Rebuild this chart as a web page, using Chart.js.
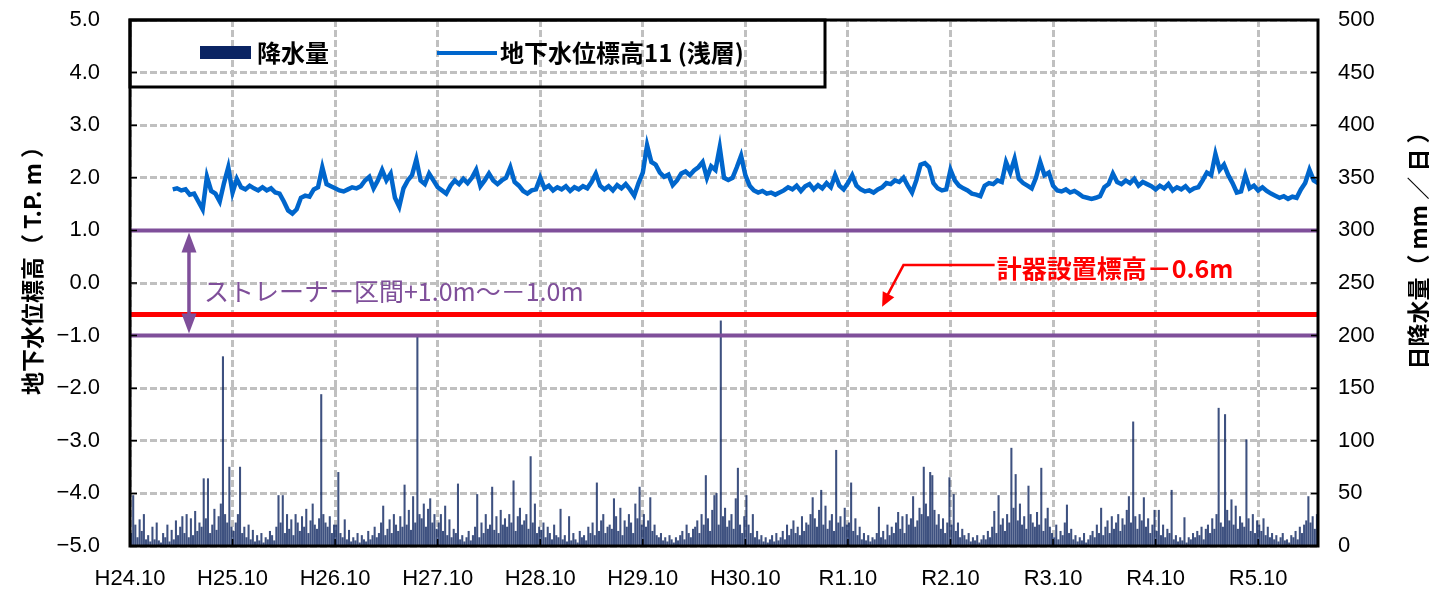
<!DOCTYPE html>
<html>
<head>
<meta charset="utf-8">
<script src="https://cdn.jsdelivr.net/npm/chart.js@4/dist/chart.umd.min.js"></script>
<style>
  body { margin: 0; background: #fff; }
  canvas { display: block; }
</style>
</head>
<body>
<canvas id="grafico" width="1429" height="593"></canvas>
<script>
// eje x en meses desde H24.10 (oct 2012)
const etiquetasAnio = ['H24.10', 'H25.10', 'H26.10', 'H27.10', 'H28.10', 'H29.10', 'H30.10', 'R1.10', 'R2.10', 'R3.10', 'R4.10', 'R5.10']
const mesesAnio = [0, 12, 24, 36, 48, 60, 72, 84, 96, 108, 120, 132]
const mesFinal = 139

// lluvia diaria (mm/日), maximo de cada cuarto de mes, por año fiscal
const lluvia = [
  // H24.10 - H25.9
  12,48,20,8,25,14,30,6, 10,4,18,6,22,5,3,12, 8,20,4,15,6,24,10,18,
  28,12,30,8,26,10,33,14, 22,18,64,26,64,12,20,35, 15,28,40,180,30,22,75,18,
  // H25.10
  14,22,30,75,12,18,8,20, 6,15,4,10,5,12,3,8, 6,14,10,5,18,48,22,48,
  12,30,16,25,10,30,22,14, 28,18,35,12,24,40,20,16, 26,144,30,22,18,28,12,20,
  // H26.10
  20,70,12,8,25,6,15,4, 8,5,12,3,10,6,4,14, 6,10,18,8,12,22,38,10,
  16,25,12,30,20,14,28,18, 58,20,34,15,47,22,199,30, 26,40,18,35,45,22,30,16,
  // H27.10
  22,30,14,38,10,25,8,16, 12,59,6,10,4,8,14,5, 10,18,49,8,22,12,30,16,
  20,56,15,28,12,34,20,26, 18,30,22,62,14,28,36,20, 24,30,16,85,22,40,12,18,
  // H28.10
  15,22,8,18,12,6,20,10, 8,35,6,10,4,28,5,12, 6,3,14,8,10,5,18,12,
  22,10,60,14,24,30,12,18, 20,16,45,28,14,36,10,24, 18,30,22,12,40,26,56,20,
  // H29.10
  30,18,24,46,14,20,10,8, 12,5,8,4,10,6,3,8, 5,10,14,6,20,12,8,16,
  18,24,12,30,20,67,26,14, 34,48,50,20,214,28,36,18, 24,30,16,45,74,20,12,28,
  // H30.10
  48,20,12,30,8,14,6,10, 4,8,3,6,10,4,12,5, 8,14,6,20,10,16,24,12,
  18,10,28,14,22,20,30,46, 26,18,34,53,20,38,16,24, 30,14,91,22,28,18,36,20,
  // R1.10
  22,60,14,26,10,18,6,12, 5,10,4,8,6,12,37,8, 14,6,20,10,18,12,22,32,
  16,28,12,30,20,26,47,18, 24,36,30,75,40,28,70,67, 34,20,30,16,26,12,22,65,
  // R2.10
  20,49,14,22,8,16,10,6, 12,4,8,5,10,3,6,10, 6,14,8,18,33,12,48,20,
  26,14,30,22,93,36,68,24, 40,20,28,16,57,30,22,18, 32,20,74,14,26,36,18,12,
  // R3.10
  8,20,6,14,10,22,39,12, 16,6,10,4,8,5,12,3, 6,10,14,8,20,12,36,10,
  18,24,12,28,16,22,30,14, 26,20,34,47,22,118,28,16, 30,24,46,18,26,12,20,34,
  // R4.10
  14,34,10,20,8,16,12,53, 6,10,4,8,5,27,3,8, 6,12,8,14,10,18,6,16,
  20,12,26,16,30,131,22,18, 125,34,24,44,20,38,16,28, 22,18,101,26,14,30,12,24,
  // R5.10 - R6.4
  20,14,26,10,18,8,12,6, 10,4,8,12,5,6,3,10, 8,14,6,18,12,20,24,47, 22,28,16,30
]

// nivel freatico (T.P. m), cada medio mes desde H25.3
const nivelMesInicio = 5
const nivel = [
  1.78,1.80,1.76,1.78,1.68,1.70,1.55,1.40,2.02,1.75,
  1.70,1.55,1.90,2.20,1.72,1.98,1.82,1.78,1.85,1.80,
  1.76,1.82,1.76,1.80,1.72,1.70,1.55,1.38,1.32,1.40,
  1.62,1.66,1.64,1.78,1.82,2.20,1.88,1.84,1.80,1.76,
  1.74,1.78,1.82,1.80,1.84,1.95,2.02,1.80,1.95,2.15,
  1.95,2.08,1.62,1.45,1.80,1.95,2.05,2.35,1.95,1.88,
  2.08,1.95,1.82,1.76,1.70,1.85,1.95,1.88,1.98,1.90,
  2.00,2.15,1.84,1.95,2.08,1.95,1.88,1.95,2.00,2.20,
  1.92,1.85,1.75,1.70,1.76,1.78,2.00,1.80,1.85,1.76,
  1.82,1.78,1.84,1.75,1.82,1.78,1.84,1.80,1.92,2.08,
  1.85,1.78,1.84,1.76,1.86,1.80,1.88,1.78,1.66,1.90,
  2.10,2.62,2.30,2.25,2.10,2.02,2.06,1.86,1.95,2.08,
  2.12,2.05,2.14,2.20,2.30,2.00,2.22,2.15,2.58,2.00,
  1.96,2.00,2.20,2.42,2.05,1.85,1.76,1.72,1.75,1.70,
  1.72,1.68,1.72,1.76,1.82,1.78,1.85,1.75,1.84,1.88,
  1.78,1.86,1.80,1.90,1.82,2.05,1.85,1.78,1.90,2.05,
  1.85,1.78,1.74,1.76,1.72,1.78,1.82,1.90,1.88,1.95,
  1.92,2.00,1.85,1.72,1.95,2.25,2.28,2.20,1.90,1.80,
  1.76,1.78,2.15,1.95,1.85,1.80,1.76,1.70,1.68,1.65,
  1.85,1.90,1.88,1.95,1.92,2.30,2.10,2.36,1.98,1.90,
  1.85,1.80,2.00,2.30,2.05,2.10,1.85,1.76,1.74,1.78,
  1.72,1.75,1.70,1.64,1.62,1.60,1.62,1.65,1.82,1.88,
  2.08,1.92,1.88,1.95,1.90,1.98,1.85,1.92,1.88,1.84,
  1.78,1.85,1.80,1.88,1.76,1.82,1.78,1.84,1.75,1.80,
  1.82,1.95,2.10,2.05,2.45,2.15,2.25,2.05,1.90,1.72,
  1.74,2.05,1.80,1.85,1.76,1.82,1.75,1.70,1.66,1.62,
  1.65,1.60,1.64,1.62,1.78,1.90,2.15,1.95,1.90
]

// lineas de referencia (T.P. m)
const strainerSup = 1.0
const strainerInf = -1.0
const cotaSensor = -0.6

const fuenteNum = { family: 'Liberation Sans', size: 22 }
const fuenteJp = '"Noto Sans CJK JP", sans-serif'
const colorGrid = '#c0c0c0'
const morado = '#7f4f9a'
const invisible = 'rgba(0,0,0,0)'

const puntosLluvia = lluvia.map((v, k) => ({ x: k / 4 + 0.125, y: v }))
const puntosNivel = nivel.map((v, i) => ({ x: nivelMesInicio + i * 0.5, y: v }))
const lineaHorizontal = y => [{ x: 0, y: y }, { x: mesFinal, y: y }]

function formatoNivel(v) {
    if (v < 0) return '\u2212' + Math.abs(v).toFixed(1)
    return v.toFixed(1)
}

function flecha(ctx, x1, y1, x2, y2, largo, ancho) {
    const ang = Math.atan2(y2 - y1, x2 - x1)
    ctx.beginPath()
    ctx.moveTo(x2, y2)
    ctx.lineTo(x2 - largo * Math.cos(ang) + ancho * Math.sin(ang), y2 - largo * Math.sin(ang) - ancho * Math.cos(ang))
    ctx.lineTo(x2 - largo * Math.cos(ang) - ancho * Math.sin(ang), y2 - largo * Math.sin(ang) + ancho * Math.cos(ang))
    ctx.closePath()
    ctx.fill()
}

const decoraciones = {
    id: 'decoraciones',
    afterDraw(chart) {
        const { ctx, chartArea: a, scales } = chart
        const sx = scales.x, sy = scales.y, sy1 = scales.y1
        ctx.save()

        // marcas de los ejes hacia dentro
        ctx.strokeStyle = '#000'
        ctx.lineWidth = 1.5
        ctx.beginPath()
        sy.ticks.forEach(t => {
            const p = sy.getPixelForValue(t.value)
            ctx.moveTo(a.left, p); ctx.lineTo(a.left + 7, p)
        })
        sy1.ticks.forEach(t => {
            const p = sy1.getPixelForValue(t.value)
            ctx.moveTo(a.right, p); ctx.lineTo(a.right - 7, p)
        })
        sx.ticks.forEach(t => {
            const p = sx.getPixelForValue(t.value)
            ctx.moveTo(p, a.bottom); ctx.lineTo(p, a.bottom - 7)
        })
        ctx.stroke()

        // marco del grafico
        ctx.lineWidth = 3
        ctx.strokeRect(a.left, a.top, a.right - a.left, a.bottom - a.top)

        // flecha de la zona de rejilla
        const xs = sx.getPixelForValue(6.9)
        const ys1 = sy.getPixelForValue(strainerSup) + 2
        const ys2 = sy.getPixelForValue(strainerInf) - 2
        ctx.strokeStyle = morado
        ctx.fillStyle = morado
        ctx.lineWidth = 3.5
        ctx.beginPath()
        ctx.moveTo(xs, ys1 + 14); ctx.lineTo(xs, ys2 - 14)
        ctx.stroke()
        flecha(ctx, xs, ys2 - 20, xs, ys1, 20, 7.5)
        flecha(ctx, xs, ys1 + 20, xs, ys2, 20, 7.5)
        ctx.font = '25px ' + fuenteJp
        ctx.textBaseline = 'middle'
        ctx.textAlign = 'left'
        ctx.fillText('ストレーナー区間+1.0m～－1.0m', xs + 15, sy.getPixelForValue(-0.17))

        // nota de la cota del sensor
        ctx.strokeStyle = '#ff0000'
        ctx.fillStyle = '#ff0000'
        ctx.lineWidth = 2.5
        const codoX = sx.getPixelForValue(90.5), codoY = sy.getPixelForValue(0.34)
        const puntaX = sx.getPixelForValue(88.0), puntaY = sy.getPixelForValue(-0.45)
        const textoX = sx.getPixelForValue(101.4)
        ctx.beginPath()
        ctx.moveTo(textoX - 2, codoY); ctx.lineTo(codoX, codoY); ctx.lineTo(puntaX + 3, puntaY - 7)
        ctx.stroke()
        flecha(ctx, codoX, codoY, puntaX, puntaY, 14, 6.5)
        ctx.font = 'bold 25px ' + fuenteJp
        ctx.fillText('計器設置標高－0.6m', textoX, codoY + 3)

        // leyenda
        const lx = a.left, ly = a.top
        ctx.strokeStyle = '#000'
        ctx.lineWidth = 3
        ctx.strokeRect(lx, ly, 695, 67)
        const dsLluvia = chart.data.datasets[4], dsNivel = chart.data.datasets[0]
        ctx.fillStyle = '#0a2463'
        ctx.fillRect(lx + 70, ly + 26, 51, 13)
        ctx.fillStyle = '#000'
        ctx.font = 'bold 24px ' + fuenteJp
        ctx.fillText(dsLluvia.label, lx + 127, ly + 33)
        ctx.strokeStyle = dsNivel.borderColor
        ctx.lineWidth = 4
        ctx.beginPath()
        ctx.moveTo(lx + 307, ly + 33); ctx.lineTo(lx + 367, ly + 33)
        ctx.stroke()
        ctx.fillText(dsNivel.label, lx + 370, ly + 33)

        // titulos de los ejes
        ctx.font = 'bold 23px ' + fuenteJp
        ctx.textAlign = 'center'
        ctx.save()
        ctx.translate(32, 265)
        ctx.rotate(-Math.PI / 2)
        ctx.fillText('地下水位標高（ T.P. m ）', 0, 0)
        ctx.restore()
        ctx.save()
        ctx.translate(1418, 245)
        ctx.rotate(-Math.PI / 2)
        ctx.fillText('日降水量（ mm ／ 日 ）', 0, 0)
        ctx.restore()

        ctx.restore()
    }
}

const ctx = document.getElementById('grafico').getContext('2d')
new Chart(ctx, {
    type: 'line',
    data: {
        datasets: [
            {
                label: '地下水位標高11 (浅層)',
                data: puntosNivel,
                borderColor: '#0066cc',
                borderWidth: 4.5,
                pointRadius: 0,
                tension: 0,
                yAxisID: 'y',
                order: 0
            },
            { label: 'strainer sup', data: lineaHorizontal(strainerSup), borderColor: morado, borderWidth: 4, pointRadius: 0, yAxisID: 'y', order: 1 },
            { label: 'strainer inf', data: lineaHorizontal(strainerInf), borderColor: morado, borderWidth: 4, pointRadius: 0, yAxisID: 'y', order: 1 },
            { label: 'sensor', data: lineaHorizontal(cotaSensor), borderColor: '#ff0000', borderWidth: 5, pointRadius: 0, yAxisID: 'y', order: 1 },
            {
                type: 'bar',
                label: '降水量',
                data: puntosLluvia,
                backgroundColor: 'rgba(14,38,96,0.8)',
                barThickness: 1.4,
                yAxisID: 'y1',
                order: 2
            }
        ]
    },
    options: {
        responsive: false,
        animation: false,
        events: [],
        layout: { padding: { top: 20 } },
        plugins: {
            legend: { display: false },
            tooltip: { enabled: false }
        },
        scales: {
            x: {
                type: 'linear',
                offset: false,
                min: 0,
                max: mesFinal,
                afterBuildTicks: s => { s.ticks = mesesAnio.map(v => ({ value: v })) },
                afterFit: s => { s.height = 47 },
                ticks: {
                    callback: (v, i) => etiquetasAnio[i],
                    font: fuenteNum,
                    color: '#000',
                    padding: 20,
                    maxRotation: 0,
                    autoSkip: false
                },
                grid: { color: colorGrid, lineWidth: 3, drawTicks: false, offset: false },
                border: { display: false, dash: [7, 3] }
            },
            y: {
                position: 'left',
                min: -5,
                max: 5,
                afterFit: s => { s.width = 130 },
                ticks: { stepSize: 1, callback: v => formatoNivel(v), font: fuenteNum, color: '#000', padding: 0 },
                grid: { color: colorGrid, lineWidth: 3, drawTicks: true, tickLength: 30, tickColor: invisible },
                border: { display: false, dash: [7, 3] }
            },
            y1: {
                position: 'right',
                min: 0,
                max: 500,
                afterFit: s => { s.width = 111 },
                ticks: { stepSize: 50, font: fuenteNum, color: '#000', padding: 0 },
                grid: { drawOnChartArea: false, drawTicks: true, tickLength: 20, tickColor: invisible },
                border: { display: false }
            }
        }
    },
    plugins: [decoraciones]
})
</script>
</body>
</html>
